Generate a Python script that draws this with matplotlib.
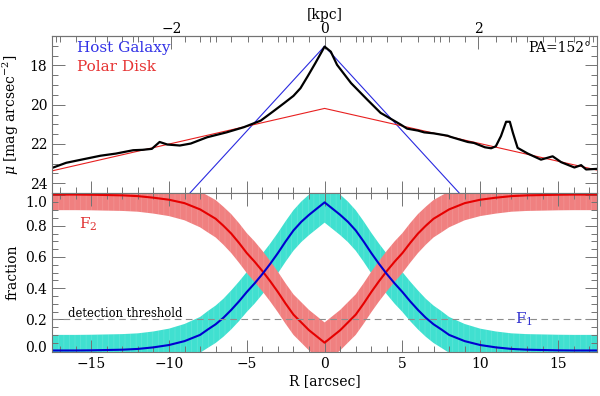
import numpy as np
import matplotlib
matplotlib.use('Agg')
import matplotlib.pyplot as plt
import matplotlib.transforms as mtransforms
from matplotlib.ticker import MultipleLocator, FixedLocator

plt.rcParams['font.family'] = 'DejaVu Serif'
plt.rcParams['mathtext.fontset'] = 'dejavuserif'
plt.rcParams['font.size'] = 10
plt.rcParams['hatch.linewidth'] = 0.4

# observed surface brightness profile (arcsec, mag/arcsec^2)
r_prof = [-17.5, -16.6, -15.5, -14.4, -13.4, -12.3, -11.7, -11.1, -10.6, -10.1,
          -9.3, -8.6, -7.55, -6.3, -5.2, -4.1, -3.3, -2.6, -2.0, -1.55, -1.1,
          -0.6, 0.0, 0.4, 0.8, 1.7, 2.75, 3.6, 3.8, 4.9, 5.3, 6.0, 6.4, 7.0, 7.9,
          8.1, 9.2, 9.6, 10.3, 10.7, 11.0, 11.33, 11.66, 11.9, 12.1, 12.4, 13.05,
          13.9, 14.65, 15.2, 16.05, 16.48, 16.8, 17.5]
mu_prof = [23.22, 22.96, 22.78, 22.6, 22.49, 22.32, 22.3, 22.25, 21.9, 22.03,
           22.08, 21.98, 21.66, 21.41, 21.15, 20.81, 20.34, 19.92, 19.55, 19.16, 18.57,
           17.89, 17.04, 17.3, 17.97, 18.9, 19.75, 20.42, 20.51, 21.02, 21.22, 21.32, 21.41, 21.46, 21.58,
           21.64, 21.9, 21.95, 22.17, 22.22, 22.12, 21.6, 20.87, 20.87, 21.44, 22.2, 22.49,
           22.8, 22.63, 22.93, 23.2, 23.08, 23.3, 23.27]

# model components
r_host = [-8.65, 0.0, 8.65]
mu_host = [24.5, 17.02, 24.5]
r_disk = [-17.5, 0.0, 17.5]
mu_disk = [23.37, 20.19, 23.33]

# light fractions vs |R|
r_half = [0, 0.5, 1, 1.5, 2, 2.5, 3, 3.5, 4, 4.5, 5, 5.5, 6, 6.5, 7, 7.5, 8,
          9, 10, 11, 12, 13, 14, 15, 16, 17.5]
f1_half = [0.95, 0.91, 0.87, 0.825, 0.77, 0.70, 0.625, 0.555, 0.49, 0.43, 0.375,
           0.315, 0.26, 0.21, 0.168, 0.135, 0.10, 0.06, 0.035, 0.02, 0.01, 0.005,
           0.003, 0.001, 0.0, 0.0]
f2_half = [0.05, 0.09, 0.13, 0.18, 0.23, 0.30, 0.375, 0.445, 0.51, 0.57, 0.625,
           0.69, 0.75, 0.80, 0.845, 0.875, 0.905, 0.945, 0.967, 0.98, 0.99, 0.995,
           0.997, 0.999, 1.0, 1.0]
err_half = [0.13, 0.13, 0.13, 0.13, 0.13, 0.13, 0.13, 0.13, 0.13, 0.13, 0.128,
            0.127, 0.125, 0.122, 0.12, 0.118, 0.115, 0.11, 0.105, 0.102, 0.1, 0.1,
            0.1, 0.1, 0.1, 0.1]
threshold = 0.2
kpc_per_arcsec = 0.203

rh = np.array(r_half)
r_full = np.concatenate([-rh[::-1], rh[1:]])
def mirror(a):
    a = np.array(a)
    return np.concatenate([a[::-1], a[1:]])
f1 = mirror(f1_half)
f2 = mirror(f2_half)
err = mirror(err_half)

fig = plt.figure(figsize=(6, 3.96), dpi=100)
ax1 = fig.add_axes([0.087, 0.5126, 0.908, 0.3965])
ax2 = fig.add_axes([0.087, 0.111, 0.908, 0.4016])

edge = '0.45'
for ax in (ax1, ax2):
    for s in ax.spines.values():
        s.set_color(edge)
        s.set_linewidth(0.8)
    ax.set_xlim(-17.5, 17.5)
    ax.xaxis.set_major_locator(MultipleLocator(5))
    ax.xaxis.set_minor_locator(MultipleLocator(1))
    ax.tick_params(which='both', direction='in', top=True, right=True,
                   color=edge, width=0.7)
    ax.tick_params(which='major', length=9)
    ax.tick_params(which='minor', length=4.5)

# top panel
ax1.plot(r_host, mu_host, color='#2a2ae0', lw=0.8)
ax1.plot(r_disk, mu_disk, color='#e82020', lw=0.8)
ax1.plot(r_prof, mu_prof, color='black', lw=1.6)
ax1.set_ylim(24.5, 16.5)
ax1.yaxis.set_major_locator(MultipleLocator(2))
ax1.yaxis.set_minor_locator(MultipleLocator(0.5))
ax1.tick_params(axis='x', labelbottom=False, top=False)
ax1.set_ylabel(r'$\mu$ [mag arcsec$^{-2}$]', labelpad=6)
ax1.text(0.046, 0.922, 'Host Galaxy', color='#3333e6', transform=ax1.transAxes,
         va='center', ha='left', fontsize=11)
ax1.text(0.046, 0.80, 'Polar Disk', color='#e63333', transform=ax1.transAxes,
         va='center', ha='left', fontsize=11)
ax1.text(0.99, 0.922, 'PA=152°', color='black', transform=ax1.transAxes,
         va='center', ha='right', fontsize=10)

top = ax1.secondary_xaxis('top', functions=(lambda x: x * kpc_per_arcsec,
                                            lambda x: x / kpc_per_arcsec))
top.xaxis.set_major_locator(FixedLocator([-2, 0, 2]))
top.xaxis.set_minor_locator(FixedLocator(np.arange(-3.5, 3.6, 0.5)))
top.tick_params(which='both', direction='in', color=edge, width=0.7, pad=0)
top.tick_params(which='major', length=9)
top.tick_params(which='minor', length=4.5)
top.spines['top'].set_color(edge)
top.set_xlabel('[kpc]', labelpad=2)

# bottom panel
ax2.fill_between(r_full, f1 - err, f1 + err, color='#40e0d0', lw=0,
                 hatch='|||', edgecolor=(1, 1, 1, 0.2))
ax2.fill_between(r_full, f2 - err, f2 + err, color='#f08080', lw=0,
                 hatch='|||', edgecolor=(1, 1, 1, 0.2))
ax2.plot(r_full, f2, color='#e60000', lw=1.5)
ax2.plot(r_full, f1, color='#0000d0', lw=1.5)
ax2.axhline(threshold, color='0.55', lw=0.8, ls=(0, (6, 4)))
ax2.text(-16.5, threshold + 0.04, 'detection threshold', fontsize=8.3,
         color='black', va='center', ha='left')
ax2.text(-15.2, 0.81, r'F$_2$', color='#e03030', fontsize=11, va='center', ha='center')
ax2.text(12.8, 0.2, r'F$_1$', color='#3030d0', fontsize=11, va='center', ha='center')
ax2.set_ylim(-0.01, 1.01)
ax2.yaxis.set_major_locator(MultipleLocator(0.2))
ax2.yaxis.set_minor_locator(MultipleLocator(0.05))
ax2.set_ylabel('fraction', labelpad=4)
ax2.set_xlabel('R [arcsec]', labelpad=2)

# nudge end labels as in the original layout
fig.canvas.draw()
for lab in ax2.get_yticklabels():
    t = lab.get_text().replace('\u2212', '-')
    if t in ('1.0',):
        lab.set_transform(lab.get_transform() +
                          mtransforms.ScaledTranslation(0, -5 / 72, fig.dpi_scale_trans))
    elif t in ('0.0',):
        lab.set_transform(lab.get_transform() +
                          mtransforms.ScaledTranslation(0, 3 / 72, fig.dpi_scale_trans))

fig.savefig('out.png', dpi=100)
